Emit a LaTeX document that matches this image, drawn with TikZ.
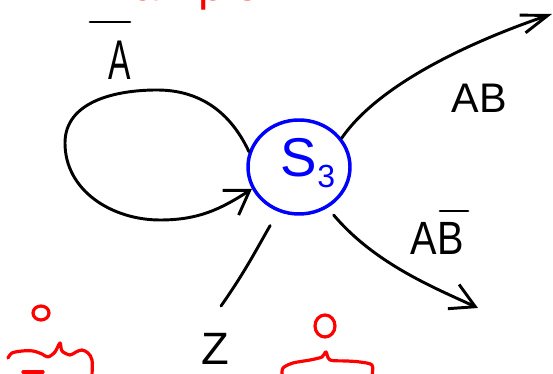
\documentclass[tikz,border=0pt]{standalone}
\usepackage{fontspec}
\setmainfont{Liberation Sans}
\usetikzlibrary{arrows.meta,shapes.geometric}
\begin{document}
\begin{tikzpicture}[x=0.75pt,y=0.75pt,
  ink/.style={line width=2.2pt, line cap=round, line join=round},
  redink/.style={red, line width=2.4pt, line cap=round, line join=round},
  lbl/.style={inner sep=0pt, font=\fontsize{#1}{#1}\selectfont}]
\useasboundingbox (0,0) rectangle (553,374);
\clip (0,0) rectangle (553,374);

% title (cut off at top)
\node[anchor=base west, text=red, lbl=35pt] (title) at (40,373) {2 Example.};

% state
\node[ellipse, draw=blue, line width=2.6pt, minimum width=76.5pt, minimum height=70.5pt, inner sep=0pt] (s3) at (299,207) {};
\node[lbl=41pt, text=blue] (s3lbl) at (308,211) {S\raisebox{-8pt}{\fontsize{24pt}{24pt}\selectfont 3}};

% labels
\node[lbl=42pt] (la) at (120,314) {\scalebox{0.6}[1]{A}};
\draw[ink] (90,352) -- (130,352);
\node[lbl=31pt] (lab) at (479,276) {AB};
\node[lbl=35pt] (labn) at (437,135.5) {\scalebox{0.85}[1]{AB}};
\draw[ink] (440,163) -- (468,163);
\node[lbl=34pt] (lz) at (215,25) {Z};

% loop
\draw[ink, -{Straight Barb[length=17pt,width=22pt]}] (s3.163) to[out=115,in=0] (157,284)
  to[out=180,in=90] (65,231) to[out=270,in=180] (160,154) to[out=0,in=213] (s3.205);

% AB edge
\coordinate (abtip) at (552,360);
\draw[ink, -{Straight Barb[length=20pt,width=14pt]}] (s3.34) .. controls (383,296) and (490,339) .. (abtip);

% AB-bar edge
\coordinate (abntip) at (478,66);
\draw[ink, shorten <=7pt, -{Straight Barb[length=18pt,width=20pt]}] (s3.-55) .. controls (375,110) and (435,86) .. (abntip);

% Z edge
\coordinate (zend) at (221,68);
\draw[ink, shorten <=12pt] (s3.-115) to[out=240,in=55] (zend);

% red annotations
\draw[redink] (41,61) ellipse [x radius=8, y radius=7];
\draw[redink] plot[smooth, tension=0.5] coordinates {(8,16) (12,21) (22,23) (33,23) (42,20) (48,17) (55,22) (60,31) (62,23) (70,19) (76,22) (82,24) (88,21) (92,14) (92,-2)};
\draw[redink] (23,2) -- (43,2);
\draw[redink] (325,48) ellipse [x radius=10, y radius=11];
\draw[redink] plot[smooth, tension=0.5] coordinates {(282,-2) (283,6) (293,11) (310,14) (322,17) (326,22) (330,14) (347,13) (360,12) (372,9) (372,-2)};
\end{tikzpicture}
\end{document}
